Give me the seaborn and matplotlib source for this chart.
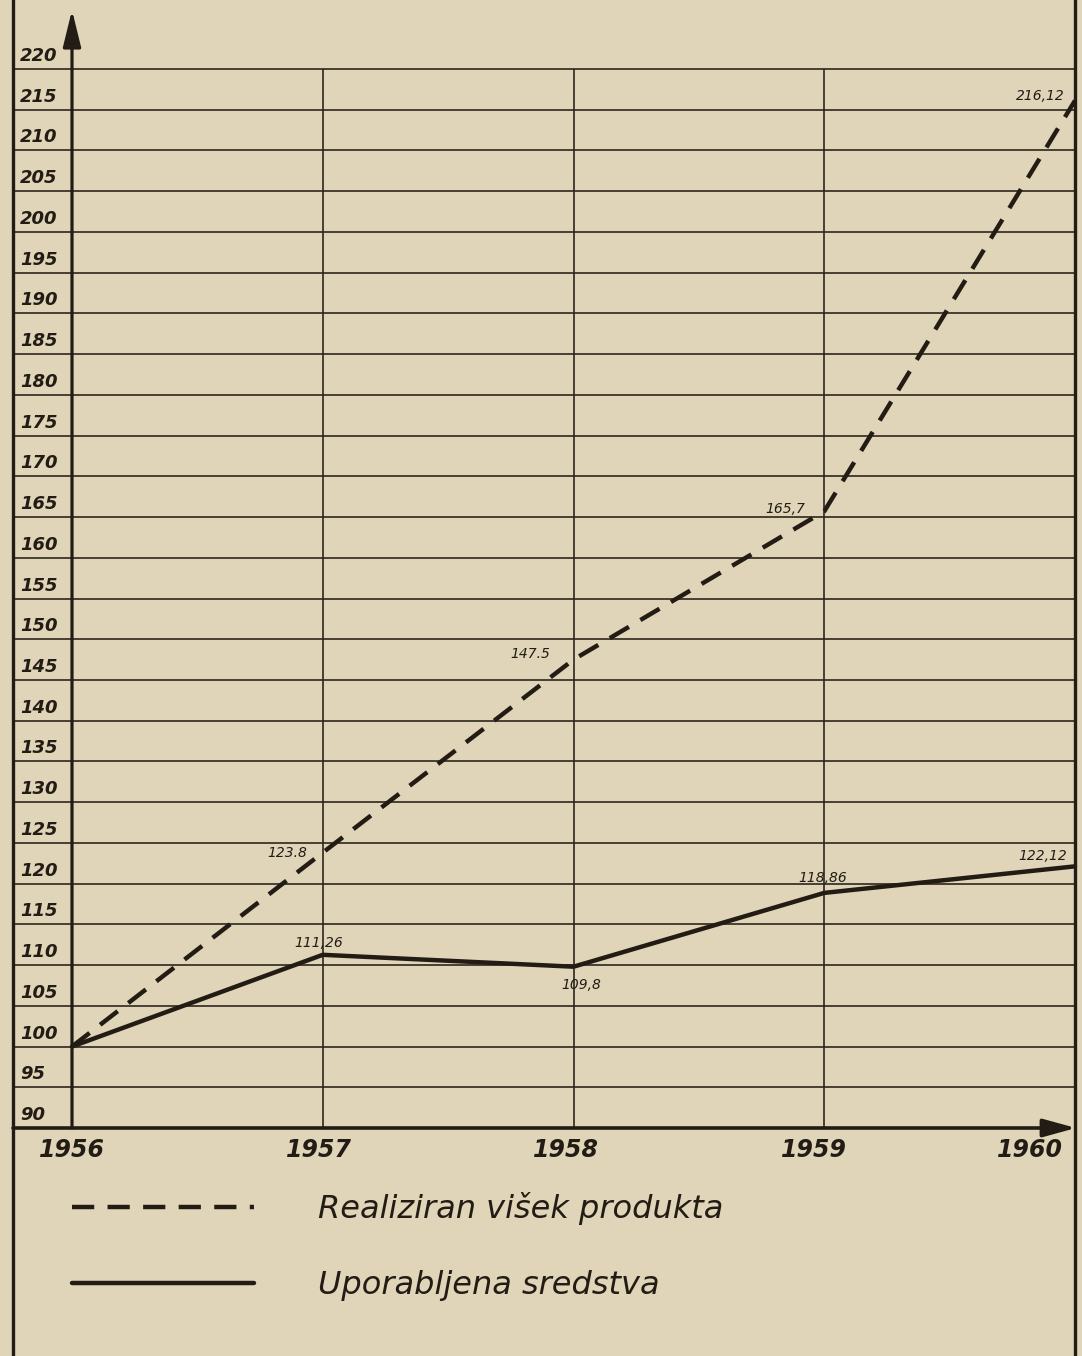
import matplotlib
matplotlib.use('Agg')
import matplotlib.pyplot as plt
import pandas as pd
import seaborn as sns
from matplotlib.transforms import ScaledTranslation

# data (index, 1956 = 100)
years = [1956, 1957, 1958, 1959, 1960]
visek = [100, 123.8, 147.5, 165.7, 216.12]
sredstva = [100, 111.26, 109.8, 118.86, 122.12]
visek_labels = ['', '123.8', '147.5', '165,7', '216,12']
sredstva_labels = ['', '111,26', '109,8', '118,86', '122,12']
series_names = ['Realiziran višek produkta', 'Uporabljena sredstva']
y_ticks = list(range(90, 221, 5))

df = pd.DataFrame({
    'year': years * 2,
    'value': visek + sredstva,
    'series': [series_names[0]] * len(years) + [series_names[1]] * len(years),
})

paper = '#e0d5b8'
ink = '#221c14'
grid_ink = '#2e261b'

sns.set_style('white', {'axes.facecolor': paper, 'figure.facecolor': paper})
plt.rcParams['font.family'] = ['DejaVu Sans']

W, H = 1082, 1356
fig = plt.figure(figsize=(W / 100, H / 100), dpi=100)
ax = fig.add_axes([0, 0, 1, 1])

# pixel geometry of the original sheet
px_year = (1075 - 72) / 4
px_unit = (1128 - 69) / 130
ax.set_xlim(1956 - 72 / px_year, 1960 + 7 / px_year)
ax.set_ylim(90 - (H - 1128) / px_unit, 220 + 69 / px_unit)
ax.axis('off')
x_frame = 1956 - (72 - 13) / px_year

# grid and frame
ax.hlines(y_ticks[1:], x_frame, 1960, color=grid_ink, lw=1.2, zorder=1)
ax.vlines(years[1:-1], 90, 220, color=grid_ink, lw=1.2, zorder=1)
ax.axvline(x_frame, color=ink, lw=2.4, zorder=2)
ax.axvline(1960, color=ink, lw=2.4, zorder=2)

# axes with arrows
ax.annotate('', xy=(1956, 220 + 59 / px_unit), xytext=(1956, 90),
            arrowprops=dict(arrowstyle='-|>,head_length=0.9,head_width=0.22',
                            lw=2.3, color=ink, mutation_scale=25,
                            shrinkA=0, shrinkB=0), zorder=3)
ax.annotate('', xy=(1960 + 1 / px_year, 90), xytext=(x_frame, 90),
            arrowprops=dict(arrowstyle='-|>,head_length=0.8,head_width=0.22',
                            lw=2.6, color=ink, mutation_scale=25,
                            shrinkA=0, shrinkB=0), zorder=3)

# the two series
sns.lineplot(data=df, x='year', y='value', hue='series', style='series',
             palette=[ink, ink], dashes={series_names[0]: (5, 3), series_names[1]: ''},
             linewidth=3.2, ax=ax, zorder=5)

# y labels, written just above each line
up = ScaledTranslation(0, 13 / 100, fig.dpi_scale_trans)
for v in y_ticks:
    ax.text(x_frame + 7 / px_year, v, str(v), transform=ax.transData + up,
            ha='left', va='center', fontsize=13, fontweight='bold',
            fontstyle='italic', color=ink)

# year labels under the x axis
year_shift = [0, -4, -8, -10, -45]
for yr, s in zip(years, year_shift):
    ax.text(yr + s / px_year, 90 - 22 / px_unit, str(yr), ha='center', va='center',
            fontsize=17, fontweight='bold', fontstyle='italic', color=ink)

# value labels
visek_off = [(0, 0), (-35, 0), (-43, 6), (-39, 2), (-35, 5)]
sredstva_off = [(0, 0), (-4, 12), (8, -18), (-2, 15), (-32, 10)]
for yr, val, lab, off in zip(years, visek, visek_labels, visek_off):
    if lab:
        ax.annotate(lab, (yr, val), xytext=off, textcoords='offset pixels',
                    ha='center', va='center', fontsize=10, fontstyle='italic', color=ink)
for yr, val, lab, off in zip(years, sredstva, sredstva_labels, sredstva_off):
    if lab:
        ax.annotate(lab, (yr, val), xytext=off, textcoords='offset pixels',
                    ha='center', va='center', fontsize=10, fontstyle='italic', color=ink)

# legend below the chart
sns.move_legend(ax, 'upper left', bbox_to_anchor=(72 / W, 1 - 1192 / H),
                title=None, frameon=False, fontsize=23, handlelength=5.7,
                handletextpad=2.0, labelspacing=1.4, borderpad=0, borderaxespad=0)
leg = ax.get_legend()
for t in leg.get_texts():
    t.set_fontstyle('italic')
    t.set_color(ink)
for h in leg.get_lines():
    h.set_linewidth(3.2)

fig.savefig('out.png', dpi=100, facecolor=paper)
